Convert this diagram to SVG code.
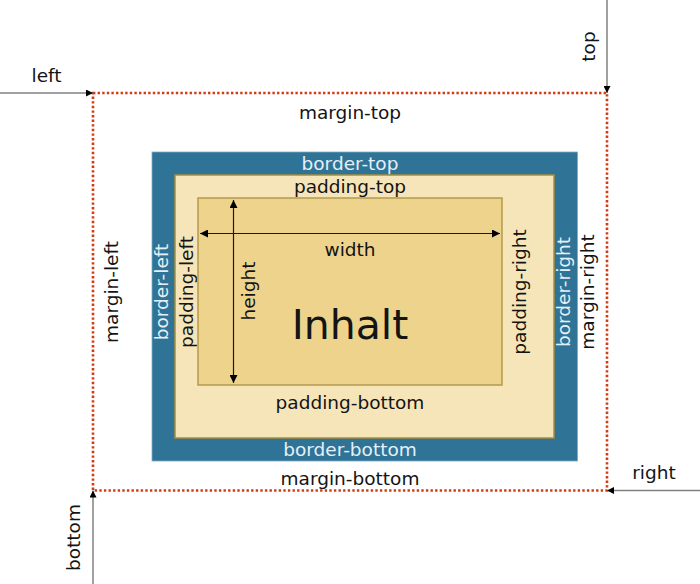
<svg xmlns="http://www.w3.org/2000/svg" width="700" height="584" viewBox="0 0 700 584">
<style>
text{font-family:"DejaVu Sans","Liberation Sans",sans-serif;font-size:18.5px;fill:#141414;text-anchor:middle}
.w{fill:#e4f0f7}
.big{font-size:41px}
.pos{stroke:#808080;stroke-width:1.5;fill:none}
.dim{stroke:#1a1a1a;stroke-width:1.2;fill:none}
</style>
<defs>
<marker id="ah" viewBox="0 0 10 10" refX="10" refY="5" markerWidth="7" markerHeight="7" markerUnits="userSpaceOnUse" orient="auto-start-reverse">
<path d="M0,0 L10,5 L0,10 z" fill="#000"/>
</marker>
<marker id="ah2" viewBox="0 0 10 10" refX="10" refY="5" markerWidth="8" markerHeight="8" markerUnits="userSpaceOnUse" orient="auto-start-reverse">
<path d="M0,0 L10,5 L0,10 z" fill="#000"/>
</marker>
</defs>
<g id="margin">
<rect x="93" y="93" width="514" height="397.5" fill="#fff" stroke="#d23c14" stroke-width="2.6" stroke-dasharray="2.4,2.2"/>
<text x="350" y="118.5">margin-top</text>
<text x="350" y="485">margin-bottom</text>
<text transform="translate(118,292) rotate(-90)">margin-left</text>
<text transform="translate(593.5,292) rotate(-90)">margin-right</text>
</g>
<g id="border">
<rect x="152" y="152" width="425.5" height="309" fill="#2f7397" stroke="#7eaac4" stroke-width="0.8"/>
<text class="w" x="350" y="170">border-top</text>
<text class="w" x="350" y="456">border-bottom</text>
<text class="w" transform="translate(168,292) rotate(-90)">border-left</text>
<text class="w" transform="translate(569.5,292) rotate(-90)">border-right</text>
</g>
<g id="padding">
<rect x="175" y="175" width="379" height="263" fill="#f5e5b9" stroke="#a68f3f" stroke-width="1.5"/>
<text x="350" y="192.5">padding-top</text>
<text x="350" y="409">padding-bottom</text>
<text transform="translate(192.5,292) rotate(-90)">padding-left</text>
<text transform="translate(525.5,292) rotate(-90)">padding-right</text>
</g>
<g id="content">
<rect x="198" y="198" width="304" height="187" fill="#eed38c" stroke="#b39a4c" stroke-width="1.5"/>
<text x="350" y="256">width</text>
<text transform="translate(255,291) rotate(-90)">height</text>
<text class="big" x="350" y="338.5">Inhalt</text>
</g>
<g id="connectors">
<line class="dim" x1="200" y1="233.5" x2="500" y2="233.5" marker-start="url(#ah2)" marker-end="url(#ah2)"/>
<line class="dim" x1="233.5" y1="200" x2="233.5" y2="383" marker-start="url(#ah2)" marker-end="url(#ah2)"/>
<line class="pos" x1="0" y1="93" x2="93" y2="93" marker-end="url(#ah)"/>
<line class="pos" x1="607" y1="0" x2="607" y2="93" marker-end="url(#ah)"/>
<line class="pos" x1="700" y1="490.5" x2="607" y2="490.5" marker-end="url(#ah)"/>
<line class="pos" x1="93" y1="584" x2="93" y2="490.5" marker-end="url(#ah)"/>
</g>
<g id="labels">
<text x="46.5" y="81.5">left</text>
<text transform="translate(595,46.5) rotate(-90)">top</text>
<text x="654" y="479">right</text>
<text transform="translate(80,537.5) rotate(-90)">bottom</text>
</g>
</svg>
